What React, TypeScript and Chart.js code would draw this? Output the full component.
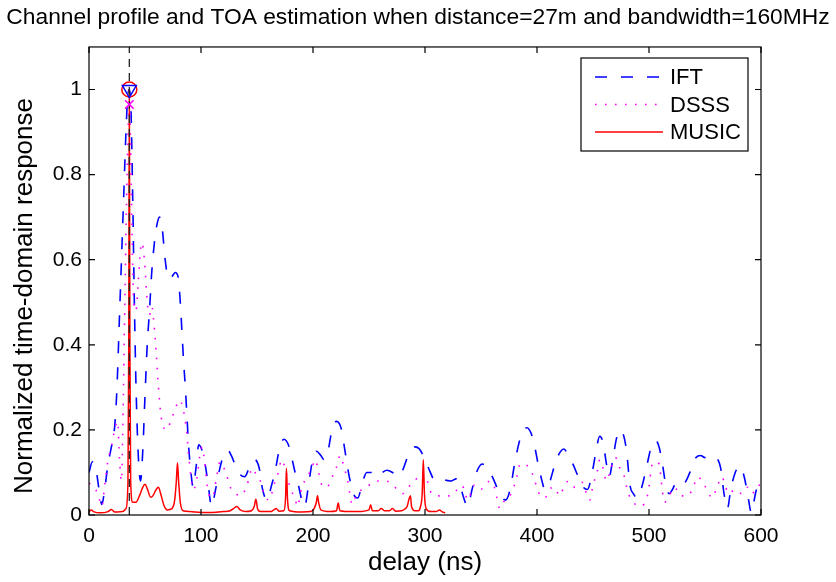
import React, { useEffect, useRef } from "react";
import { Chart, registerables } from "chart.js";

Chart.register(...registerables);

const titleText = "Channel profile and TOA estimation when distance=27m and bandwidth=160MHz";
const xAxisLabel = "delay (ns)";
const yAxisLabel = "Normalized time-domain response";
const xTickValues = [0, 100, 200, 300, 400, 500, 600];
const yTickValues = [0, 0.2, 0.4, 0.6, 0.8, 1];
const seriesNames = ["IFT", "DSSS", "MUSIC"];

// [delay (ns), normalized response]
const iftSamples: [number, number][] = [
  [0, 0.1], [3, 0.125], [6, 0.11], [9, 0.06], [11.5, 0.025], [14, 0.06], [17, 0.12], [20, 0.16],
  [23, 0.21], [25, 0.3], [27, 0.45], [29, 0.6], [31, 0.75], [33, 0.9], [34.5, 0.98], [36, 1.0],
  [37.5, 0.95], [39, 0.75], [40.5, 0.5], [42, 0.3], [44, 0.14], [46, 0.08], [48, 0.15], [50, 0.28],
  [52, 0.4], [54, 0.48], [56, 0.57], [58, 0.63], [60.5, 0.68], [63, 0.7], [65.5, 0.67], [68, 0.6],
  [71, 0.555], [74, 0.56], [77, 0.57], [79.5, 0.56], [81.5, 0.5], [83, 0.43], [84.5, 0.36], [86, 0.3],
  [87.5, 0.23], [89, 0.16], [91, 0.1], [93, 0.065], [95.5, 0.11], [98, 0.165], [100.5, 0.155], [103, 0.13],
  [106, 0.08], [109.5, 0.02], [113, 0.06], [116, 0.1], [120, 0.14], [124, 0.152], [127, 0.14], [131, 0.115],
  [135, 0.095], [139, 0.09], [143, 0.11], [148, 0.13], [152, 0.11], [155, 0.06], [159, 0.035], [163, 0.07],
  [166, 0.1], [170, 0.155], [174, 0.178], [178, 0.165], [181, 0.135], [184, 0.1], [187, 0.07], [190, 0.035],
  [192.5, 0.02], [196, 0.07], [199, 0.12], [203, 0.15], [207, 0.14], [210, 0.13], [213, 0.145], [217, 0.2],
  [221, 0.22], [225, 0.205], [228, 0.16], [231, 0.11], [234, 0.07], [237, 0.045], [240, 0.04], [244, 0.075],
  [248, 0.1], [252, 0.1], [257, 0.09], [262, 0.1], [266, 0.105], [271, 0.1], [276, 0.09], [280, 0.105],
  [285, 0.14], [291, 0.16], [295, 0.155], [300, 0.13], [304, 0.105], [308, 0.085], [313, 0.09], [318, 0.082],
  [323, 0.08], [328, 0.085], [331, 0.075], [334, 0.045], [338, 0.02], [342, 0.06], [346, 0.1], [351, 0.12],
  [356, 0.11], [361, 0.085], [365, 0.06], [369, 0.04], [372, 0.035], [376, 0.06], [380, 0.12], [384, 0.17],
  [388, 0.2], [391, 0.205], [395, 0.19], [398, 0.16], [401, 0.12], [404, 0.085], [407, 0.06], [411, 0.075],
  [415, 0.11], [419, 0.14], [424, 0.155], [428, 0.14], [432, 0.12], [436, 0.095], [440, 0.07], [445, 0.06],
  [450, 0.11], [453, 0.155], [456, 0.185], [459, 0.17], [462, 0.12], [464.5, 0.09], [467, 0.12], [471, 0.18],
  [474, 0.2], [477, 0.19], [480, 0.15], [483, 0.07], [486, 0.05], [490, 0.04], [494, 0.07], [498, 0.115],
  [502, 0.16], [506, 0.175], [509, 0.16], [512, 0.12], [515, 0.07], [518, 0.05], [521, 0.06], [524, 0.075],
  [527, 0.07], [530, 0.07], [534, 0.085], [538, 0.11], [542, 0.135], [546, 0.14], [550, 0.135], [555, 0.14],
  [560, 0.135], [564, 0.11], [567, 0.05], [570, 0.015], [573, 0.06], [577, 0.1], [581, 0.115], [585, 0.09],
  [588, 0.05], [591.5, 0.005], [595, 0.05], [598, 0.075], [600, 0.085],
];

const dsssSamples: [number, number][] = [
  [0, 0.075], [3, 0.07], [6, 0.06], [9, 0.04], [11.5, 0.02], [14, 0.07], [17, 0.13], [20, 0.16],
  [23, 0.2], [25.5, 0.22], [27.5, 0.12], [29, 0.08], [30.5, 0.25], [32, 0.5], [34, 0.8], [35.5, 0.95],
  [36, 0.965], [37, 0.9], [38.5, 0.65], [40, 0.5], [42, 0.48], [44, 0.55], [47, 0.64], [49.5, 0.6],
  [52, 0.5], [54, 0.47], [56, 0.49], [58, 0.45], [60, 0.38], [62, 0.3], [64, 0.24], [66, 0.21],
  [69, 0.2], [73, 0.22], [77, 0.25], [81, 0.27], [84, 0.25], [87, 0.2], [89, 0.14], [91, 0.09],
  [93, 0.06], [96, 0.08], [99, 0.14], [101, 0.16], [103, 0.13], [106, 0.06], [110, 0.04], [114, 0.09],
  [117, 0.125], [122, 0.1], [127, 0.06], [131, 0.05], [136, 0.045], [141, 0.07], [146, 0.11], [150, 0.09],
  [153, 0.08], [156, 0.05], [161, 0.035], [165, 0.07], [169, 0.1], [172, 0.13], [176, 0.1], [180, 0.06],
  [184, 0.04], [186, 0.02], [190, 0.065], [195, 0.09], [199, 0.11], [202, 0.13], [205, 0.1], [209, 0.065],
  [214, 0.07], [218, 0.095], [222, 0.12], [224, 0.14], [228, 0.11], [231, 0.08], [235, 0.025], [239, 0.05],
  [244, 0.06], [248, 0.065], [252, 0.075], [256, 0.08], [263, 0.08], [270, 0.075], [275, 0.06], [280, 0.05],
  [285, 0.065], [291, 0.08], [297, 0.1], [302, 0.08], [306, 0.05], [313, 0.045], [318, 0.045], [323, 0.045],
  [327, 0.055], [333, 0.07], [336, 0.05], [338, 0.035], [344, 0.07], [347, 0.06], [352, 0.063], [358, 0.08],
  [362, 0.065], [367, 0.015], [372, 0.04], [377, 0.05], [382, 0.09], [385, 0.12], [389, 0.12], [393, 0.11],
  [397, 0.09], [401, 0.055], [407, 0.04], [411, 0.06], [416, 0.065], [420, 0.045], [424, 0.065], [428, 0.08],
  [434, 0.065], [440, 0.077], [447, 0.035], [450, 0.07], [454, 0.105], [456, 0.13], [459, 0.11], [462, 0.08],
  [466, 0.11], [470, 0.135], [474, 0.11], [478, 0.09], [481, 0.055], [486, 0.03], [492, 0.02], [499, 0.05],
  [503, 0.12], [506, 0.125], [509, 0.12], [512, 0.055], [514, 0.03], [518, 0.045], [523, 0.065], [528, 0.045],
  [535, 0.045], [540, 0.07], [544, 0.09], [548, 0.075], [552, 0.06], [556, 0.04], [560, 0.06], [565, 0.09],
  [568, 0.07], [571, 0.05], [577, 0.06], [583, 0.05], [588, 0.065], [592, 0.05], [597, 0.07], [600, 0.07],
];

const musicSamples: [number, number][] = [
  [0, 0.008], [2, 0.012], [4, 0.008], [10, 0.005], [17, 0.008], [20, 0.013], [23, 0.007], [30, 0.008],
  [33, 0.015], [34.8, 0.08], [35.5, 0.4], [36, 1.0], [36.5, 0.4], [37.2, 0.08], [39, 0.03], [42, 0.03],
  [45, 0.045], [48, 0.065], [50, 0.072], [52, 0.062], [55, 0.042], [57, 0.045], [60, 0.06], [62, 0.065],
  [64, 0.05], [67, 0.022], [70, 0.012], [74, 0.015], [76.5, 0.035], [78, 0.08], [79, 0.123], [80, 0.08],
  [81.5, 0.03], [84, 0.01], [90, 0.008], [100, 0.006], [110, 0.006], [120, 0.008], [126, 0.01], [129, 0.015],
  [132, 0.02], [135, 0.012], [140, 0.008], [145, 0.01], [147.5, 0.02], [149, 0.037], [150.5, 0.015], [153, 0.008],
  [162, 0.008], [165, 0.012], [167, 0.015], [170, 0.009], [174, 0.01], [175.5, 0.04], [176.3, 0.11], [177.2, 0.04],
  [179, 0.01], [190, 0.007], [198, 0.008], [201, 0.015], [203, 0.03], [204, 0.045], [205, 0.03], [207, 0.012],
  [215, 0.008], [221, 0.01], [222.5, 0.028], [224, 0.01], [235, 0.008], [240, 0.008], [250, 0.012], [251.5, 0.024],
  [253, 0.01], [258, 0.01], [261, 0.015], [264, 0.01], [268, 0.01], [271, 0.015], [274, 0.009], [279, 0.01],
  [282, 0.014], [284, 0.02], [286, 0.04], [287, 0.045], [288, 0.02], [291, 0.01], [294, 0.01], [296, 0.02],
  [297.5, 0.05], [298.5, 0.13], [299.5, 0.05], [301, 0.015], [305, 0.008], [310, 0.008], [313, 0.012], [315, 0.008],
  [318, 0.005],
];

// TOA estimates (delay ns, value)
const toaDelay = 36;
const iftPeakValue = 1.0;
const musicPeakValue = 1.0;
const dsssPeakValue = 0.965;
const yAxisMax = 1.1;

const FONT = "'Liberation Sans', Arial, Helvetica, sans-serif";
const BLUE = "#0000ff";
const MAGENTA = "#ff00ff";
const RED = "#ff0000";

const toPoints = (s: [number, number][]) => s.map(([x, y]) => ({ x, y }));

const legendStyles = [
  { color: BLUE, dash: [12, 14], width: 1.6 },
  { color: MAGENTA, dash: [1.6, 8.4], width: 1.6 },
  { color: RED, dash: [], width: 1.5 },
];

const framePlugin = {
  id: "matlabFrame",
  afterDatasetsDraw(chart: any) {
    const { ctx, chartArea: a, scales } = chart;
    const xs = scales.x;
    const ys = scales.y;
    ctx.save();
    ctx.strokeStyle = "#000";
    ctx.lineWidth = 1.2;
    ctx.setLineDash([]);
    ctx.strokeRect(a.left, a.top, a.right - a.left, a.bottom - a.top);
    const tl = 6;
    ctx.beginPath();
    xTickValues.forEach((v) => {
      const px = xs.getPixelForValue(v);
      ctx.moveTo(px, a.bottom);
      ctx.lineTo(px, a.bottom - tl);
      ctx.moveTo(px, a.top);
      ctx.lineTo(px, a.top + tl);
    });
    yTickValues.forEach((v) => {
      const py = ys.getPixelForValue(v);
      ctx.moveTo(a.left, py);
      ctx.lineTo(a.left + tl, py);
      ctx.moveTo(a.right, py);
      ctx.lineTo(a.right - tl, py);
    });
    ctx.stroke();
    ctx.restore();
  },
  afterDraw(chart: any) {
    const { ctx } = chart;
    ctx.save();
    // y-axis title
    ctx.fillStyle = "#000";
    ctx.font = `26px ${FONT}`;
    ctx.textAlign = "center";
    ctx.textBaseline = "middle";
    ctx.translate(25, 296);
    ctx.rotate(-Math.PI / 2);
    ctx.fillText(yAxisLabel, 0, 0);
    ctx.restore();

    ctx.save();
    const bx = 581, by = 58, bw = 167, bh = 93;
    ctx.fillStyle = "#fff";
    ctx.fillRect(bx, by, bw, bh);
    ctx.strokeStyle = "#000";
    ctx.lineWidth = 1.2;
    ctx.setLineDash([]);
    ctx.strokeRect(bx, by, bw, bh);
    const rows = [77, 104.5, 132];
    seriesNames.forEach((name, i) => {
      const st = legendStyles[i];
      ctx.beginPath();
      ctx.strokeStyle = st.color;
      ctx.lineWidth = st.width;
      ctx.setLineDash(st.dash);
      ctx.moveTo(595, rows[i]);
      ctx.lineTo(663, rows[i]);
      ctx.stroke();
      ctx.setLineDash([]);
      ctx.fillStyle = "#000";
      ctx.font = `22px ${FONT}`;
      ctx.textBaseline = "middle";
      ctx.textAlign = "left";
      ctx.fillText(name, 670, rows[i] + 1);
    });
    ctx.restore();
  },
};

export default function App() {
  const canvasRef = useRef<HTMLCanvasElement | null>(null);

  useEffect(() => {
    document.body.style.margin = "0";
    const canvas = canvasRef.current;
    if (!canvas) return;
    const chart = new Chart(canvas, {
      type: "scatter",
      data: {
        datasets: [
          {
            label: "IFT peak",
            data: [{ x: toaDelay, y: iftPeakValue }],
            pointStyle: "triangle",
            rotation: 180,
            radius: 8,
            borderColor: BLUE,
            backgroundColor: "rgba(0,0,0,0)",
            borderWidth: 1.5,
            showLine: false,
            order: 0,
          } as any,
          {
            label: "MUSIC peak",
            data: [{ x: toaDelay, y: musicPeakValue }],
            pointStyle: "circle",
            radius: 7.5,
            borderColor: RED,
            backgroundColor: "rgba(0,0,0,0)",
            borderWidth: 1.5,
            showLine: false,
            order: 0,
          } as any,
          {
            label: "DSSS peak",
            data: [{ x: toaDelay, y: dsssPeakValue }],
            pointStyle: "crossRot",
            radius: 6,
            borderColor: MAGENTA,
            backgroundColor: MAGENTA,
            borderWidth: 1.5,
            showLine: false,
            order: 0,
          } as any,
          {
            label: "TOA",
            data: [{ x: toaDelay, y: 0 }, { x: toaDelay, y: yAxisMax }],
            showLine: true,
            borderColor: "#222",
            borderWidth: 1.3,
            borderDash: [8, 6],
            pointRadius: 0,
            order: 1,
          } as any,
          {
            label: "MUSIC",
            data: toPoints(musicSamples),
            showLine: true,
            borderColor: RED,
            borderWidth: 1.5,
            pointRadius: 0,
            cubicInterpolationMode: "monotone",
            order: 2,
          } as any,
          {
            label: "DSSS",
            data: toPoints(dsssSamples),
            showLine: true,
            borderColor: MAGENTA,
            borderWidth: 1.6,
            borderDash: [1.6, 8.4],
            pointRadius: 0,
            cubicInterpolationMode: "monotone",
            order: 3,
          } as any,
          {
            label: "IFT",
            data: toPoints(iftSamples),
            showLine: true,
            borderColor: BLUE,
            borderWidth: 1.6,
            borderDash: [12, 14],
            pointRadius: 0,
            cubicInterpolationMode: "monotone",
            order: 4,
          } as any,
        ],
      },
      options: {
        responsive: false,
        animation: false,
        events: [],
        layout: { padding: 0 },
        plugins: {
          legend: { display: false },
          tooltip: { enabled: false },
          title: {
            display: true,
            text: titleText,
            color: "#000",
            font: { family: FONT, size: 22.8, weight: "normal" },
            padding: { top: 4, bottom: 15.6 },
          },
        },
        scales: {
          x: {
            type: "linear",
            min: 0,
            max: 600,
            grid: { display: false, drawTicks: false },
            border: { display: false },
            afterBuildTicks: (scale: any) => {
              scale.ticks = xTickValues.map((v) => ({ value: v }));
            },
            afterFit: (scale: any) => {
              scale.height = 67;
            },
            ticks: {
              color: "#000",
              font: { family: FONT, size: 21 },
              padding: 9,
              maxRotation: 0,
              callback: (v: any) => String(v),
            },
            title: {
              display: true,
              text: xAxisLabel,
              color: "#000",
              font: { family: FONT, size: 26 },
              padding: { top: 0, bottom: 4 },
            },
          },
          y: {
            type: "linear",
            position: "left",
            min: 0,
            max: yAxisMax,
            grid: { display: false, drawTicks: false },
            border: { display: false },
            afterBuildTicks: (scale: any) => {
              scale.ticks = yTickValues.map((v) => ({ value: v }));
            },
            afterFit: (scale: any) => {
              scale.width = 89;
            },
            ticks: {
              color: "#000",
              font: { family: FONT, size: 21 },
              padding: 7,
              callback: (v: any) => String(Math.round(Number(v) * 10) / 10),
            },
          },
          yRight: {
            type: "linear",
            position: "right",
            min: 0,
            max: yAxisMax,
            grid: { display: false, drawTicks: false },
            border: { display: false },
            ticks: { display: false },
            afterFit: (scale: any) => {
              scale.width = 75;
            },
          },
        },
      },
      plugins: [framePlugin],
    } as any);
    return () => chart.destroy();
  }, []);

  return (
    <div style={{ position: "absolute", left: 0, top: 0, width: 836, height: 582, background: "#fff" }}>
      <canvas ref={canvasRef} width={836} height={582} style={{ width: 836, height: 582 }} />
    </div>
  );
}
